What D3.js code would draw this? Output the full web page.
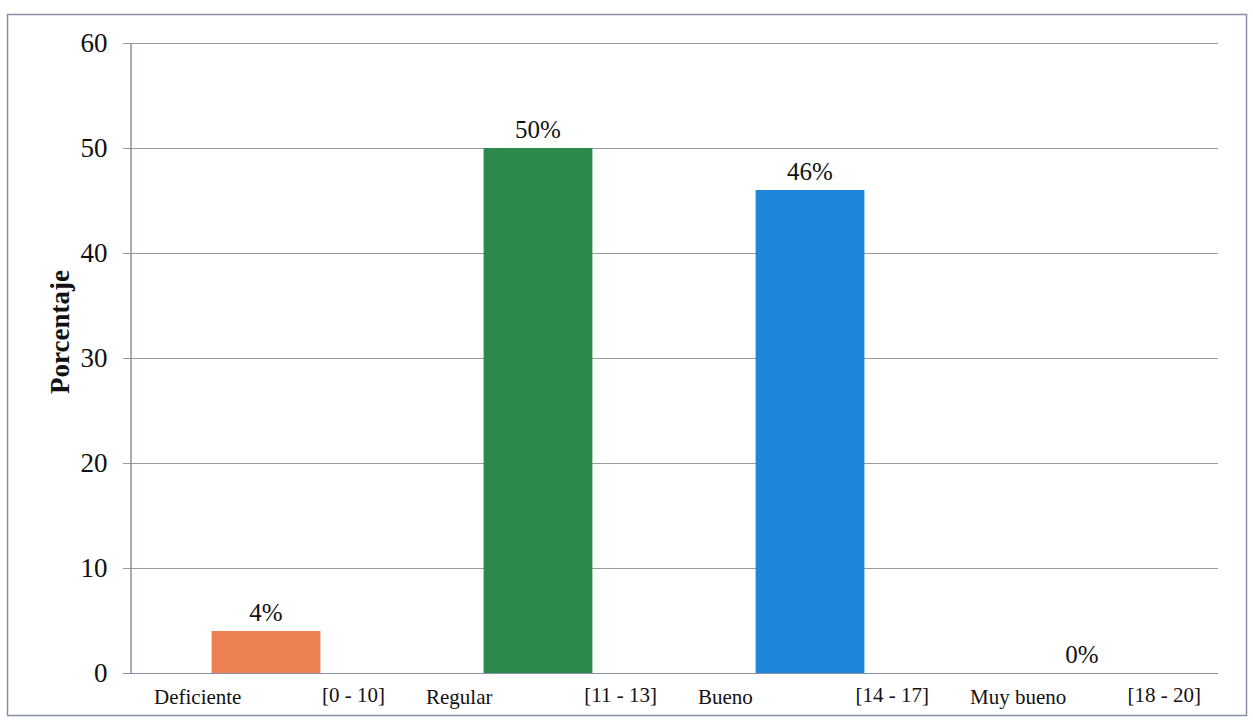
<!DOCTYPE html>
<html>
<head>
<meta charset="utf-8">
<script src="https://cdn.jsdelivr.net/npm/d3@7"></script>
<style>
  body { margin: 0; background: #fff; }
  svg text { font-family: "Times New Roman", "Liberation Serif", serif; fill: #111; }
</style>
</head>
<body>
<svg id="chart" width="1253" height="724"></svg>
<script>
// Data
var categories = ["Deficiente", "Regular", "Bueno", "Muy bueno"];
var ranges = ["[0 - 10]", "[11 - 13]", "[14 - 17]", "[18 - 20]"];
var values = [4, 50, 46, 0];
var colors = ["#ec8050", "#2b8a4b", "#1f87d9", "#999999"];
var yTicks = [0, 10, 20, 30, 40, 50, 60];

var margin = {top: 43, right: 35, bottom: 51, left: 130};
var width = 1253, height = 724;
var serif = "'Times New Roman', 'Liberation Serif', serif";

var svg = d3.select("#chart");

// outer frame
svg.append("rect")
    .attr("x", 7.5).attr("y", 14.5)
    .attr("width", 1239).attr("height", 701)
    .attr("fill", "none")
    .attr("stroke", "#8a8fa8")
    .attr("stroke-width", 1.5);

var x = d3.scaleBand()
    .domain(categories)
    .range([margin.left, width - margin.right])
    .paddingInner(0.6)
    .paddingOuter(0.3);

var y = d3.scaleLinear()
    .domain([0, 60])
    .range([height - margin.bottom, margin.top]);

// gridlines
svg.append("g")
    .selectAll("line")
    .data(yTicks)
    .enter().append("line")
    .attr("x1", margin.left - 7)
    .attr("x2", width - margin.right)
    .attr("y1", function(d) { return y(d) + 0.5; })
    .attr("y2", function(d) { return y(d) + 0.5; })
    .attr("stroke", function(d) { return d === 0 ? "#8a8fa8" : "#9a9a9a"; })
    .attr("stroke-width", 1.2);

// y axis
var yAxis = d3.axisLeft(y).tickValues(yTicks).tickSize(0).tickPadding(23);
var gy = svg.append("g")
    .attr("transform", "translate(" + (margin.left + 0.5) + ",0)")
    .call(yAxis)
    .attr("font-family", serif);
gy.select(".domain").attr("stroke", "#8a8fa8").attr("stroke-width", 1.5);
gy.selectAll("text")
    .style("font-family", serif)
    .style("font-size", "27px")
    .attr("fill", "#111");

// axis title
svg.append("text")
    .attr("transform", "translate(69,332) rotate(-90)")
    .attr("text-anchor", "middle")
    .style("font-size", "27px")
    .style("font-weight", "bold")
    .text("Porcentaje");

// bars
svg.append("g")
    .selectAll("rect")
    .data(values)
    .enter().append("rect")
    .attr("x", function(d, i) { return x(categories[i]); })
    .attr("width", x.bandwidth())
    .attr("y", function(d) { return y(d); })
    .attr("height", function(d) { return y(0) - y(d); })
    .attr("fill", function(d, i) { return colors[i]; });

// value labels
svg.append("g")
    .selectAll("text")
    .data(values)
    .enter().append("text")
    .attr("x", function(d, i) { return x(categories[i]) + x.bandwidth() / 2; })
    .attr("y", function(d) { return y(d) - 10; })
    .attr("text-anchor", "middle")
    .style("font-size", "25px")
    .text(function(d) { return d + "%"; });

// category labels: name on the left, range on the right of each band
svg.append("g")
    .selectAll("text")
    .data(categories)
    .enter().append("text")
    .attr("x", function(d) { return x(d) + x.bandwidth() / 2 - 112; })
    .attr("y", height - margin.bottom + 31)
    .attr("text-anchor", "start")
    .style("font-size", "21px")
    .text(function(d) { return d; });

svg.append("g")
    .selectAll("text")
    .data(ranges)
    .enter().append("text")
    .attr("x", function(d, i) { return x(categories[i]) + x.bandwidth() / 2 + 119; })
    .attr("y", height - margin.bottom + 29)
    .attr("text-anchor", "end")
    .style("font-size", "21px")
    .text(function(d) { return d; });
</script>
</body>
</html>
